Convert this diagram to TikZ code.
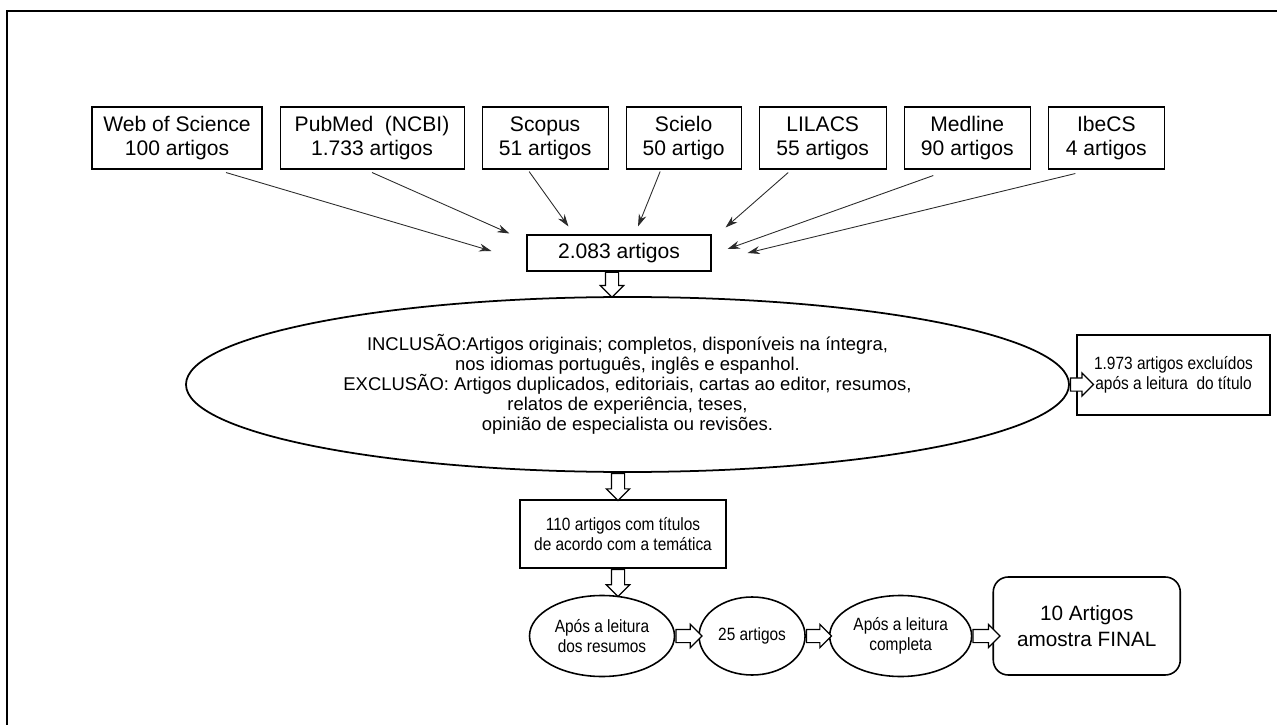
\documentclass[tikz,border=0pt]{standalone}
\usepackage{fontspec}
\setmainfont{Liberation Sans}
\newfontfamily\narrowfont[FakeStretch=0.87]{Liberation Sans}
\usetikzlibrary{positioning, shapes.geometric, shapes.arrows, arrows.meta}
\definecolor{linegray}{HTML}{2B2B2B}

\begin{document}
\begin{tikzpicture}[
    node distance=0.34cm,
    source/.style={rectangle, draw=black, line width=0.6pt, align=center,
                   minimum height=1.24cm, inner sep=2pt, font=\fontsize{12}{13.7}\selectfont},
    countbox/.style={rectangle, draw=black, line width=0.6pt, minimum width=3.68cm,
                     minimum height=0.72cm, font=\fontsize{12}{13.7}\selectfont},
    criteria/.style={ellipse, draw=black, line width=1pt, align=center, inner sep=0pt,
                     minimum width=17.66cm, minimum height=3.5cm,
                     font=\fontsize{10.5}{11.4}\selectfont},
    sidebox/.style={rectangle, draw=black, line width=0.9pt, align=center,
                    font=\narrowfont\fontsize{10.1}{11.1}\selectfont},
    phase/.style={ellipse, draw=black, line width=0.9pt, align=center, inner sep=0pt,
                  minimum height=1.62cm, font=\narrowfont\fontsize{10.1}{11.3}\selectfont},
    finalbox/.style={rectangle, rounded corners=0.3cm, draw=black, line width=0.9pt,
                     align=center, minimum width=3.74cm, minimum height=1.96cm,
                     font=\fontsize{11.8}{14.8}\selectfont},
    arrow/.style={-{Stealth[length=7pt, width=4.5pt]}, line width=0.5pt, color=linegray},
    hollow/.style={single arrow, draw=black, fill=white, line width=0.7pt,
                   inner xsep=0pt, inner ysep=0.12cm, minimum width=0pt,
                   single arrow head extend=0.1cm}
]
    \useasboundingbox (0,0) rectangle (25.54,14.48);
    \draw[line width=1.6pt] (0.14,-0.5) |- (26,14.26);

    % bases de dados
    \node[source, minimum width=3.4cm] (wos) at (3.54,11.72) {Web of Science\\100 artigos};
    \node[source, minimum width=3.68cm, right=of wos] (pubmed) {PubMed\ \ (NCBI)\\1.733 artigos};
    \node[source, minimum width=2.52cm, right=of pubmed] (scopus) {Scopus\\51 artigos};
    \node[source, minimum width=2.3cm, right=of scopus] (scielo) {Scielo\\50 artigo};
    \node[source, minimum width=2.54cm, right=of scielo] (lilacs) {LILACS\\55 artigos};
    \node[source, minimum width=2.52cm, right=of lilacs] (medline) {Medline\\90 artigos};
    \node[source, minimum width=2.32cm, right=of medline] (ibecs) {IbeCS\\4 artigos};

    \node[countbox] (total) at (12.38,9.42) {2.083 artigos};

    \draw[arrow] ([xshift=0.98cm, yshift=-0.06cm]wos.south) -- ([xshift=-0.7cm, yshift=0.04cm]total.west);
    \draw[arrow] ([yshift=-0.06cm]pubmed.south) -- ([xshift=-0.34cm, yshift=0.02cm]total.north west);
    \draw[arrow] ([xshift=-0.32cm, yshift=-0.04cm]scopus.south) -- ([xshift=0.84cm, yshift=0.16cm]total.north west);
    \draw[arrow] ([xshift=-0.47cm, yshift=-0.04cm]scielo.south) -- ([xshift=0.38cm, yshift=0.16cm]total.north);
    \draw[arrow] ([xshift=-0.69cm, yshift=-0.06cm]lilacs.south) -- ([xshift=0.28cm, yshift=0.14cm]total.north east);
    \draw[arrow] ([xshift=-0.68cm, yshift=-0.12cm]medline.south) -- ([xshift=0.32cm, yshift=0.08cm]total.east);
    \draw[arrow] ([xshift=-0.62cm, yshift=-0.08cm]ibecs.south) -- ([xshift=0.72cm]total.east);

    % criterios
    \node[criteria] (crit) at (12.55,6.79)
        {INCLUSÃO:Artigos originais; completos, disponíveis na íntegra,\\
         nos idiomas português, inglês e espanhol.\\
         EXCLUSÃO: Artigos duplicados, editoriais, cartas ao editor, resumos,\\
         relatos de experiência, teses,\\
         opinião de especialista ou revisões.};
    \node[sidebox, minimum width=3.86cm, minimum height=1.6cm] (excl) at (23.47,6.98)
        {1.973 artigos excluídos\\após a leitura\ \ do título};

    \node[sidebox, minimum width=4.12cm, minimum height=1.36cm] (sel) at (12.46,3.8)
        {110 artigos com títulos\\de acordo com a temática};

    % leitura
    \node[phase, minimum width=2.9cm] (read1) at (12.04,1.76) {Após a leitura\\dos resumos};
    \node[phase, minimum width=2.12cm, minimum height=1.56cm, right=0.46cm of read1] (n25) {25 artigos};
    \node[phase, minimum width=2.84cm, right=0.46cm of n25] (read2) {Após a leitura\\completa};
    \node[finalbox, right=0.4cm of read2, yshift=0.2cm] (final) {10 Artigos\\amostra FINAL};

    % setas vazadas
    \node[hollow, rotate=-90, minimum height=0.5cm, anchor=tail] (down1) at ([xshift=-0.14cm]total.south) {};
    \node[hollow, rotate=-90, minimum height=0.54cm, anchor=tail] (down2) at ([xshift=-0.1cm]sel.north |- crit.south) {};
    \node[hollow, rotate=-90, minimum height=0.54cm, anchor=tail] (down3) at ([xshift=-0.1cm]sel.south) {};
    \node[hollow, minimum height=0.46cm, anchor=tail] (side1) at (crit.east) {};
    \node[hollow, minimum height=0.52cm, anchor=tail] (side2) at (read1.east) {};
    \node[hollow, minimum height=0.5cm, anchor=tail] (side3) at (n25.east) {};
    \node[hollow, minimum height=0.54cm, anchor=tail] (side4) at (read2.east) {};
\end{tikzpicture}
\end{document}
